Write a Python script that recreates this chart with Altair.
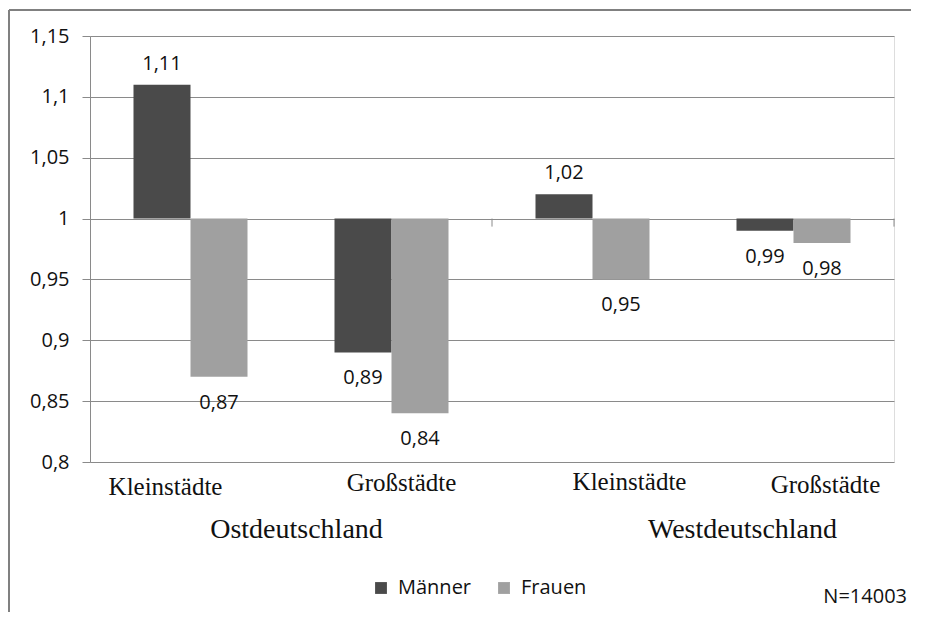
import altair as alt
import pandas as pd

regions = ["Ostdeutschland", "Ostdeutschland", "Westdeutschland", "Westdeutschland"]
types = ["Kleinstädte", "Großstädte", "Kleinstädte", "Großstädte"]
series = ["Männer", "Frauen"]
maenner = [1.11, 0.89, 1.02, 0.99]
frauen = [0.87, 0.84, 0.95, 0.98]
y_ticks = [0.8, 0.85, 0.9, 0.95, 1.0, 1.05, 1.1, 1.15]
baseline = 1.0
note = "N=14003"

keys = [r + "|" + t for r, t in zip(regions, types)]
rows = []
for k, m, f in zip(keys, maenner, frauen):
    rows.append({"key": k, "sex": "Männer", "value": m})
    rows.append({"key": k, "sex": "Frauen", "value": f})
df = pd.DataFrame(rows)
cat_df = pd.DataFrame({"key": keys, "type": types, "region": regions})

NUM_FONT = "Open Sans"
NUM_SIZE = 20
TXT = "#111111"
SERIF = "Liberation Serif"
GRID = "#8a8a8a"

x_scale = alt.Scale(domain=keys, paddingInner=0, paddingOuter=0)
xo_scale = alt.Scale(domain=series, paddingInner=0, paddingOuter=0.763)
y_scale = alt.Scale(domain=[0.8, 1.15], nice=False, zero=False)

x_enc = alt.X("key:N", scale=x_scale, sort=keys,
              axis=alt.Axis(labels=False, ticks=False, domain=False, title=None, grid=False))
xo_enc = alt.XOffset("sex:N", scale=xo_scale, sort=series)

base = alt.Chart(df)

bars = base.mark_bar().encode(
    x=x_enc,
    xOffset=xo_enc,
    y=alt.Y("value:Q", scale=y_scale, title=None,
            axis=alt.Axis(values=y_ticks,
                          labelExpr="replace(format(datum.value, '.2~f'), '.', ',')",
                          grid=True, gridColor=GRID, gridWidth=1,
                          tickColor=GRID, tickSize=8, domainColor=GRID,
                          labelFont=NUM_FONT, labelFontSize=NUM_SIZE, labelColor=TXT,
                          labelPadding=13)),
    y2=alt.datum(baseline),
    color=alt.Color("sex:N", sort=series,
                    scale=alt.Scale(domain=series, range=["#4a4a4a", "#a0a0a0"]),
                    legend=alt.Legend(orient="none", legendX=281, legendY=542,
                                      direction="horizontal", title=None,
                                      symbolType="square", symbolSize=140,
                                      symbolStrokeWidth=0,
                                      labelFont=NUM_FONT, labelFontSize=NUM_SIZE,
                                      labelColor=TXT,
                                      columnPadding=22, labelOffset=7)),
)

label_expr = "replace(format(datum.value, '.2f'), '.', ',')"

labels_up = base.transform_filter(alt.datum.value > baseline).transform_calculate(
    lab=label_expr
).mark_text(font=NUM_FONT, fontSize=NUM_SIZE, color=TXT, baseline="middle", dy=-21).encode(
    x=x_enc, xOffset=xo_enc, y=alt.Y("value:Q", scale=y_scale), text="lab:N"
)
labels_down = base.transform_filter(alt.datum.value < baseline).transform_calculate(
    lab=label_expr
).mark_text(font=NUM_FONT, fontSize=NUM_SIZE, color=TXT, baseline="middle", dy=26).encode(
    x=x_enc, xOffset=xo_enc, y=alt.Y("value:Q", scale=y_scale), text="lab:N"
)

# category tick marks on the baseline (every second category boundary)
tick_rules = []
for k, bp in [(keys[2], 0), (keys[3], 1)]:
    tick_rules.append(
        alt.Chart(cat_df).transform_filter(alt.datum.key == k).mark_rule(
            color=GRID, strokeWidth=1
        ).encode(
            x=alt.X("key:N", scale=x_scale, bandPosition=bp),
            y=alt.datum(baseline),
            y2=alt.datum(baseline - 0.0066),
        )
    )

# category labels (serif)
cat_shifts = [(-25, 451), (10, 447), (37, 446), (32, 449)]
cat_layers = []
for k, (dx, yy) in zip(keys, cat_shifts):
    cat_layers.append(
        alt.Chart(cat_df).transform_filter(alt.datum.key == k).mark_text(
            font=SERIF, fontSize=25, color=TXT, baseline="middle", dx=dx
        ).encode(x=alt.X("key:N", scale=x_scale), y=alt.value(yy), text="type:N")
    )

reg_layers = []
for k, dx in [(keys[0], 106), (keys[2], 150)]:
    reg_layers.append(
        alt.Chart(cat_df).transform_filter(alt.datum.key == k).mark_text(
            font=SERIF, fontSize=28, color=TXT, baseline="middle", dx=dx
        ).encode(x=alt.X("key:N", scale=x_scale), y=alt.value(494), text="region:N")
    )

note_text = alt.Chart(pd.DataFrame({"t": [note]})).mark_text(
    font=NUM_FONT, fontSize=NUM_SIZE, color=TXT, align="right", baseline="middle"
).encode(x=alt.value(817), y=alt.value(561), text="t:N")

frame_left = alt.Chart(pd.DataFrame({"t": [note]})).mark_rule(
    color="#808080", strokeWidth=2
).encode(x=alt.value(-81), y=alt.value(-26), y2=alt.value(576))
frame_top = alt.Chart(pd.DataFrame({"t": [note]})).mark_rule(
    color="#808080", strokeWidth=2
).encode(x=alt.value(-81), x2=alt.value(821), y=alt.value(-26))

chart = alt.layer(
    bars, labels_up, labels_down, *tick_rules, *cat_layers, *reg_layers,
    note_text, frame_left, frame_top
).properties(
    width=804, height=426,
    autosize=alt.AutoSizeParams(type="none"),
    padding={"left": 82, "top": 28, "right": 17, "bottom": 150},
).configure_view(stroke=None).configure(background="white")

chart.save("out.html", embed_options={"renderer": "svg", "actions": False})
